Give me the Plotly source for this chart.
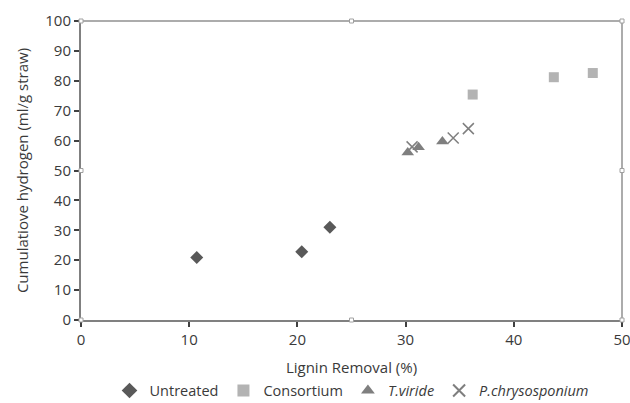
import plotly.graph_objects as go

untreated_x = [10.7, 20.4, 23.0]
untreated_y = [20.9, 22.8, 31.0]
consortium_x = [36.2, 43.7, 47.3]
consortium_y = [75.4, 81.2, 82.6]
tviride_x = [30.2, 31.2, 33.4]
tviride_y = [56.0, 57.8, 59.7]
pchry_x = [30.6, 34.4, 35.8]
pchry_y = [57.9, 60.9, 64.0]

font = "Open Sans, Noto Sans, sans-serif"

fig = go.Figure()
fig.add_trace(go.Scatter(x=untreated_x, y=untreated_y, mode="markers", name="Untreated",
                         marker=dict(symbol="diamond", size=10, color="#595959")))
fig.add_trace(go.Scatter(x=consortium_x, y=consortium_y, mode="markers", name="Consortium",
                         marker=dict(symbol="square", size=10, color="#b3b3b3")))
fig.add_trace(go.Scatter(x=tviride_x, y=tviride_y, mode="markers", name="<i>T.viride</i>",
                         marker=dict(symbol="triangle-up", size=11, color="#7f7f7f")))
fig.add_trace(go.Scatter(x=pchry_x, y=pchry_y, mode="markers", name="<i>P.chrysosponium</i>",
                         marker=dict(symbol="x-thin-open", size=11, color="#7f7f7f",
                                     line=dict(width=1.5, color="#7f7f7f"))))

fig.update_layout(
    width=630, height=403,
    margin=dict(l=81, r=8, t=21, b=83, autoexpand=False),
    paper_bgcolor="white", plot_bgcolor="white",
    font=dict(family=font, size=14, color="#3a3a3a"),
    showlegend=True,
    legend=dict(orientation="h", x=0.5, xanchor="center", y=-0.236, yanchor="middle",
                font=dict(size=14.5, color="#3a3a3a"), itemsizing="constant",
                tracegroupgap=0, itemwidth=30, borderwidth=0),
    xaxis=dict(range=[0, 50], dtick=10, showgrid=False, zeroline=False,
               showline=True, linecolor="#808080", linewidth=2, mirror=False,
               ticks="outside", ticklen=5, tickcolor="#404040", tickwidth=1.5,
               ticklabeloverflow="allow",
               title=dict(text="Lignin Removal (%)", font=dict(size=15), standoff=14),
               tickfont=dict(size=15)),
    yaxis=dict(range=[0, 100], dtick=10, showgrid=False, zeroline=False,
               showline=True, linecolor="#808080", linewidth=2,
               ticks="outside", ticklen=5, tickcolor="#404040", tickwidth=1.5,
               ticklabeloverflow="allow",
               title=dict(text="Cumulatiove hydrogen (ml/g straw)", font=dict(size=15), standoff=13),
               tickfont=dict(size=15)),
)
# top/right frame
fig.add_shape(type="line", xref="paper", yref="paper", x0=0, x1=1, y0=1, y1=1,
              line=dict(color="#909090", width=1.5))
fig.add_shape(type="line", xref="paper", yref="paper", x0=1, x1=1, y0=0, y1=1,
              line=dict(color="#909090", width=1.5))
# selection handles
for hx, hy in [(0, 1), (0.5, 1), (1, 1), (1, 0.5), (0, 0.5), (0, 0), (0.5, 0), (1, 0)]:
    fig.add_shape(type="rect", xref="paper", yref="paper", xsizemode="pixel", ysizemode="pixel",
                  xanchor=hx, yanchor=hy, x0=-2, x1=2, y0=-2, y1=2,
                  line=dict(color="#a0a0a0", width=1), fillcolor="white")

fig.write_html("out.html")
